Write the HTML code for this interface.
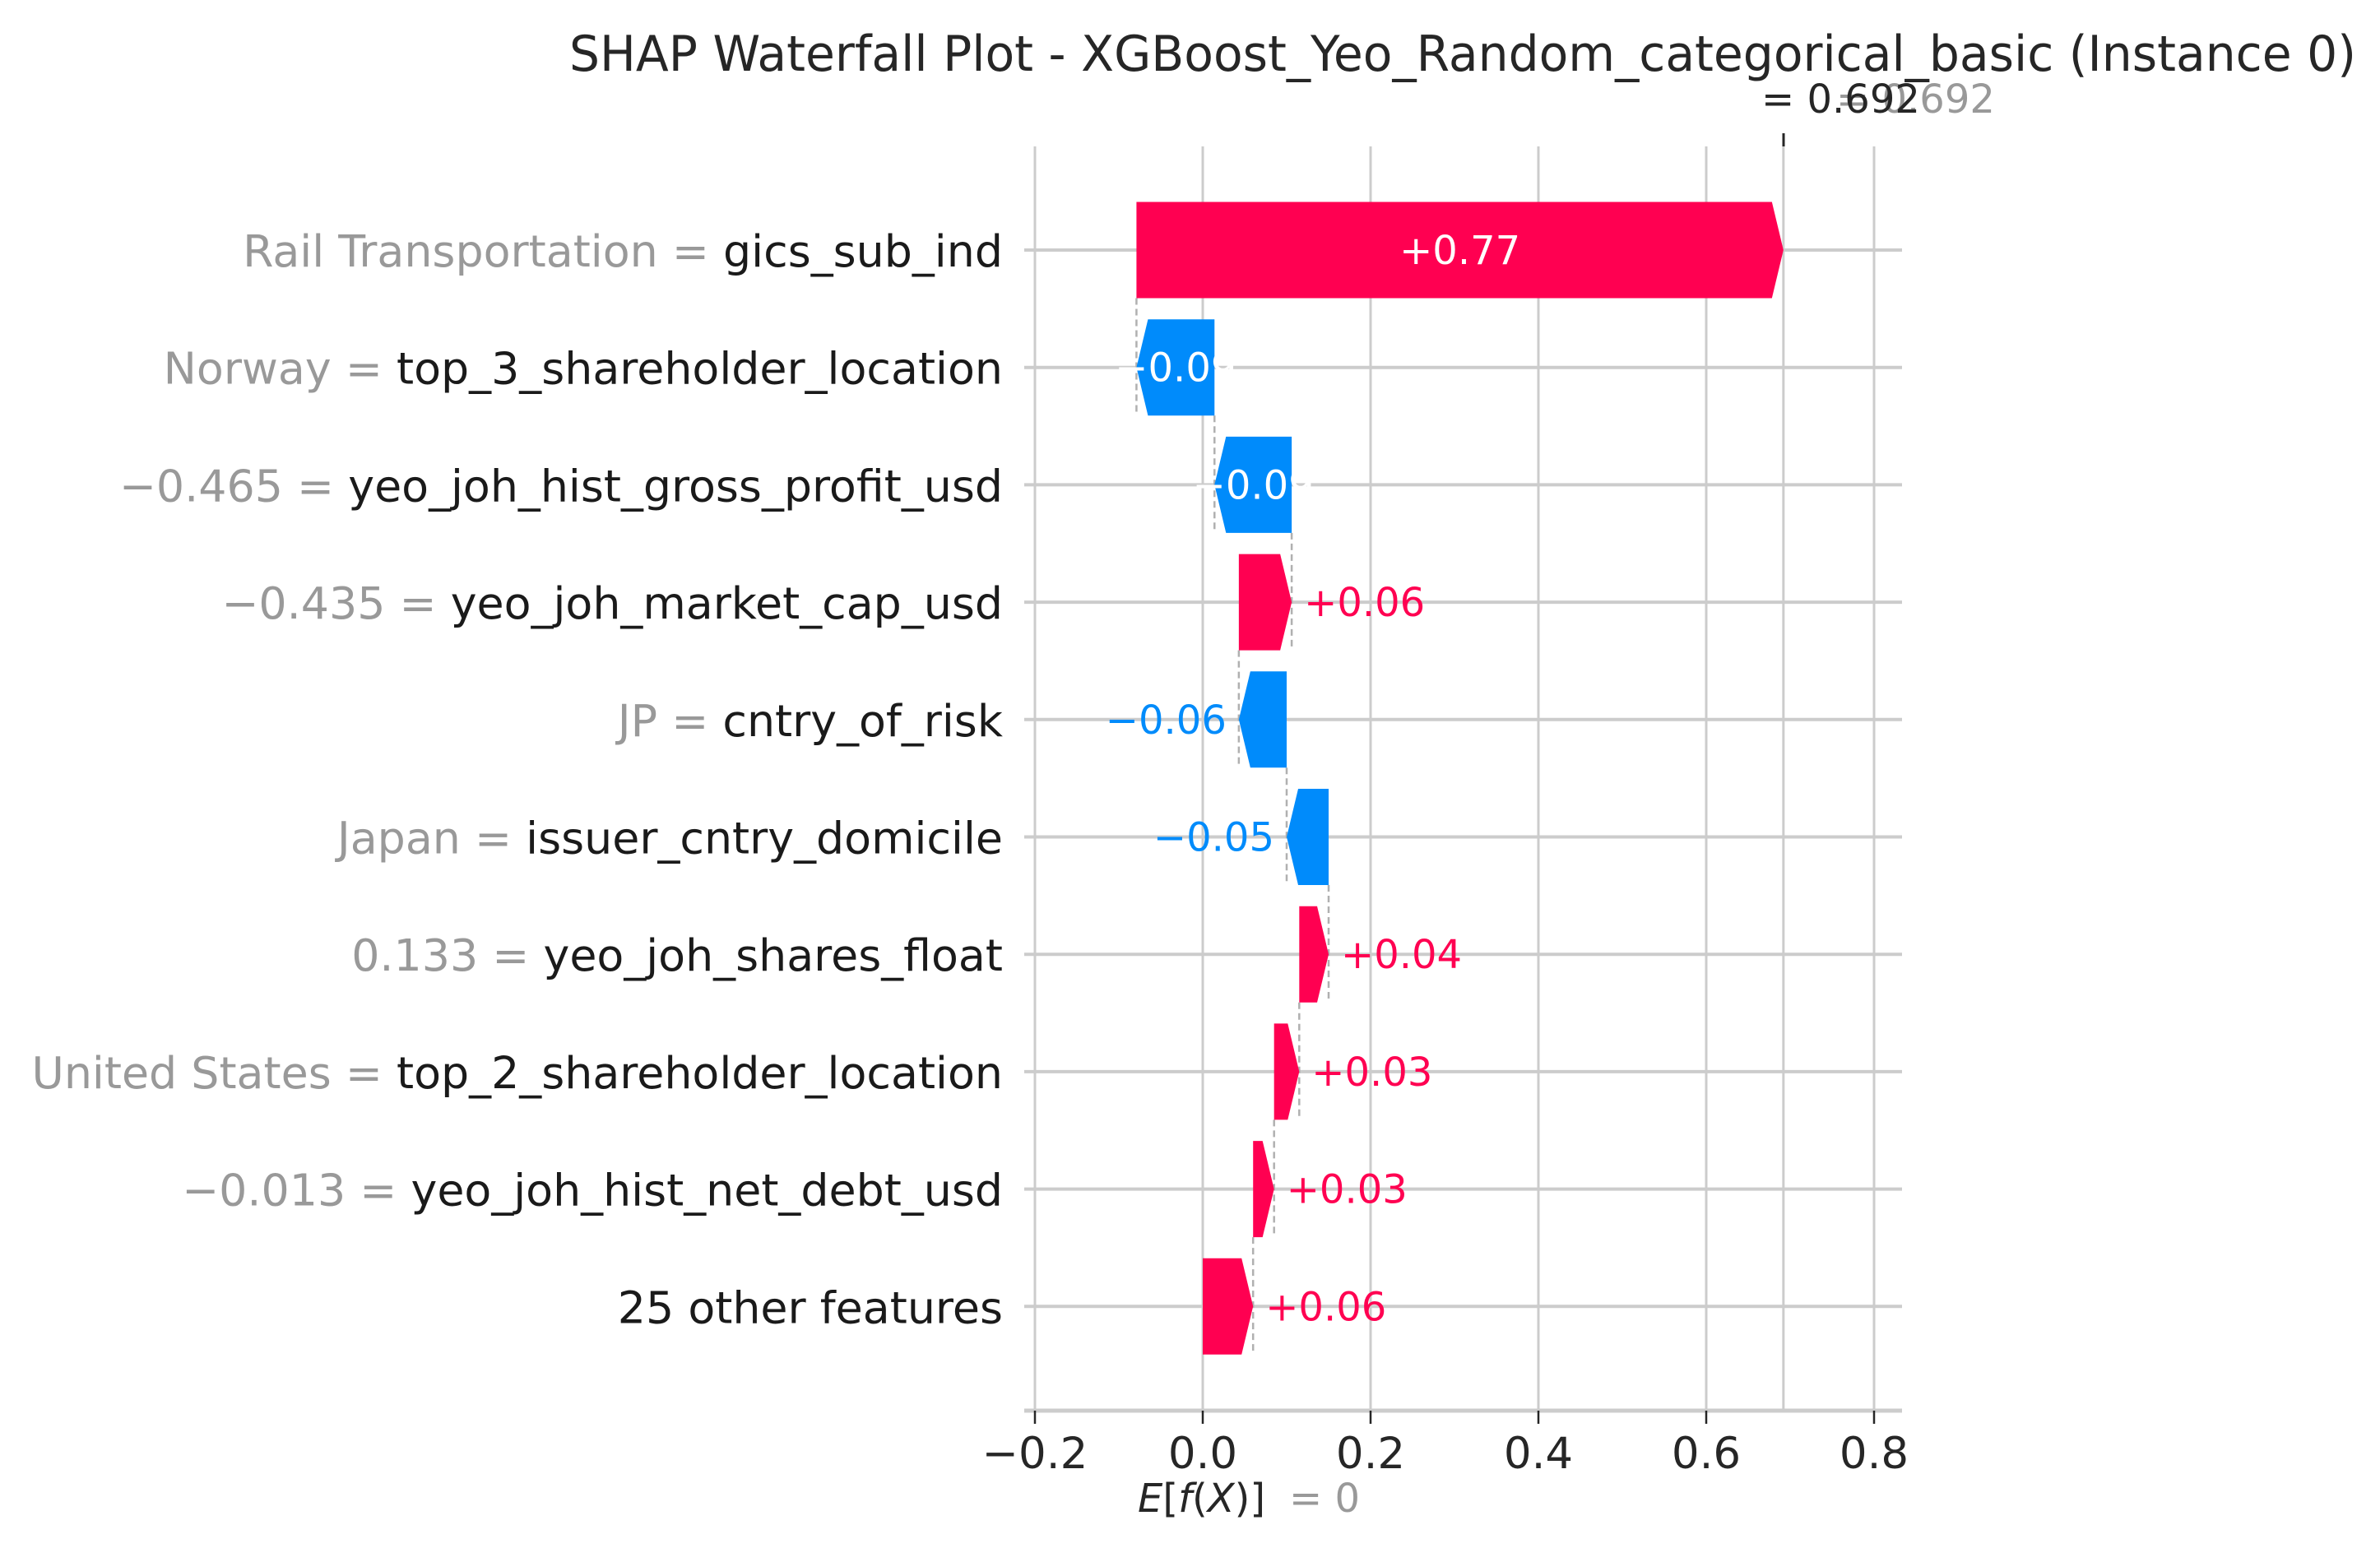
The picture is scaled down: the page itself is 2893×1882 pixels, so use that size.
<!DOCTYPE html>
<html><head><meta charset="utf-8"><style>
html,body{margin:0;padding:0;background:#fff;}
svg{display:block;font-family:"DejaVu Sans","Liberation Sans",sans-serif;}
</style></head><body>
<svg id="chart" width="2893" height="1882" viewBox="0 0 2893 1882" xmlns="http://www.w3.org/2000/svg">
<text x="692" y="86" font-size="60" fill="#262626" textLength="2172" lengthAdjust="spacingAndGlyphs">SHAP Waterfall Plot - XGBoost_Yeo_Random_categorical_basic (Instance 0)</text>
<g id="grid"></g>
<g id="rows"></g>
<g id="bars"></g>
<g id="axis"></g>
<g>
<text x="1383" y="1838" font-size="48" fill="#262626"><tspan font-style="italic">E</tspan>[<tspan font-style="italic">f</tspan>(<tspan font-style="italic">X</tspan>)]</text>
<text x="1567" y="1838" font-size="48" fill="#999999">= 0</text>
</g>
<g>
<text x="2232" y="137" font-size="48" fill="#999999">= 0.692</text>
<text x="2141" y="137" font-size="48" fill="#262626">= 0.692</text>
<line x1="2168" y1="162" x2="2168" y2="178" stroke="#262626" stroke-width="3"/>
</g>
</svg>
<script>
const featureNames = ["gics_sub_ind","top_3_shareholder_location","yeo_joh_hist_gross_profit_usd","yeo_joh_market_cap_usd","cntry_of_risk","issuer_cntry_domicile","yeo_joh_shares_float","top_2_shareholder_location","yeo_joh_hist_net_debt_usd","25 other features"];
const featureValues = ["Rail Transportation","Norway","\u22120.465","\u22120.435","JP","Japan","0.133","United States","\u22120.013",""];
const shapValues = [0.771,-0.093,-0.092,0.063,-0.057,-0.05,0.035,0.03,0.025,0.06];
const valueLabels = ["+0.77","\u22120.09","\u22120.09","+0.06","\u22120.06","\u22120.05","+0.04","+0.03","+0.03","+0.06"];
const xTicks = [-0.2,0,0.2,0.4,0.6,0.8];
const xTickLabels = ["\u22120.2","0.0","0.2","0.4","0.6","0.8"];
const baseValue = 0;

const NS="http://www.w3.org/2000/svg";
const X0=1462, PX=1020, ROW0=304, DY=142.7, BH=117, AXY=1715, TOP=178, XL=1245, XR=2312;
const xs=v=>X0+v*PX;
const ys=i=>ROW0+i*DY;
function mk(tag,attrs,parent){const e=document.createElementNS(NS,tag);for(const k in attrs)e.setAttribute(k,attrs[k]);parent.appendChild(e);return e;}
const grid=document.getElementById('grid'),rows=document.getElementById('rows'),bars=document.getElementById('bars'),axis=document.getElementById('axis');

const n=shapValues.length;
const starts=new Array(n), ends=new Array(n);
let acc=baseValue;
for(let i=n-1;i>=0;i--){starts[i]=acc;acc+=shapValues[i];ends[i]=acc;}
const finalValue=acc;

xTicks.forEach((t,k)=>{
  const g=mk('line',{x1:xs(t),x2:xs(t),y1:TOP,y2:AXY,stroke:'#cccccc','stroke-width':3},grid);
  
  
});
const fl=mk('line',{x1:xs(finalValue),x2:xs(finalValue),y1:TOP,y2:AXY,stroke:'#cccccc','stroke-width':3},grid);



for(let i=0;i<n;i++){
  const y=ys(i);
  const hl=mk('line',{x1:XL,x2:XR,y1:y,y2:y,stroke:'#cccccc','stroke-width':4},grid);
  
  
  const t=mk('text',{x:1219,y:y+20,'font-size':53.8,'text-anchor':'end'},rows);
  
  
  if(featureValues[i]){const a=mk('tspan',{fill:'#999999'},t);a.textContent=featureValues[i]+' = ';}
  const b=mk('tspan',{fill:'#1a1a1a'},t);b.textContent=featureNames[i];
}

for(let i=1;i<n;i++){
  const x=xs(ends[i]);
  const d=mk('line',{x1:x,x2:x,y1:ys(i-1)+BH/2,y2:ys(i)+BH/2,stroke:'#b0b0b0','stroke-width':2.5,'stroke-dasharray':'8,5'},bars);
  
  
}

for(let i=0;i<n;i++){
  const v=shapValues[i], y=ys(i), top=y-BH/2, bot=y+BH/2;
  const x1=xs(starts[i]), x2=xs(ends[i]);
  const w=Math.abs(x2-x1), head=Math.min(14,w);
  const pos=v>=0, col=pos?'#ff0051':'#008bfb';
  let pts;
  if(pos) pts=[[x1,top],[x2-head,top],[x2,y],[x2-head,bot],[x1,bot]];
  else pts=[[x1,top],[x2+head,top],[x2,y],[x2+head,bot],[x1,bot]];
  const p=mk('polygon',{points:pts.map(q=>q.join(',')).join(' '),fill:col},bars);
  
  
  let tx,anchor,fill;
  if(w>85){tx=(x1+x2)/2;anchor='middle';fill='#ffffff';}
  else if(pos){tx=x2+15;anchor='start';fill='#ff0051';}
  else{tx=x2-15;anchor='end';fill='#008bfb';}
  const lt=mk('text',{x:tx,y:y+17,'font-size':48,'text-anchor':anchor,fill:fill},bars);
  
  
  lt.textContent=valueLabels[i];
}

const al=mk('line',{x1:XL,x2:XR,y1:AXY,y2:AXY,stroke:'#cccccc','stroke-width':5},axis);


xTicks.forEach((t,k)=>{
  const tk=mk('line',{x1:xs(t),x2:xs(t),y1:AXY,y2:AXY+16,stroke:'#262626','stroke-width':2.5},axis);
  
  
  const tl=mk('text',{x:xs(t),y:1785,'font-size':53,'text-anchor':'middle',fill:'#262626'},axis);
  
  
  tl.textContent=xTickLabels[k];
});
</script>
</body></html>
